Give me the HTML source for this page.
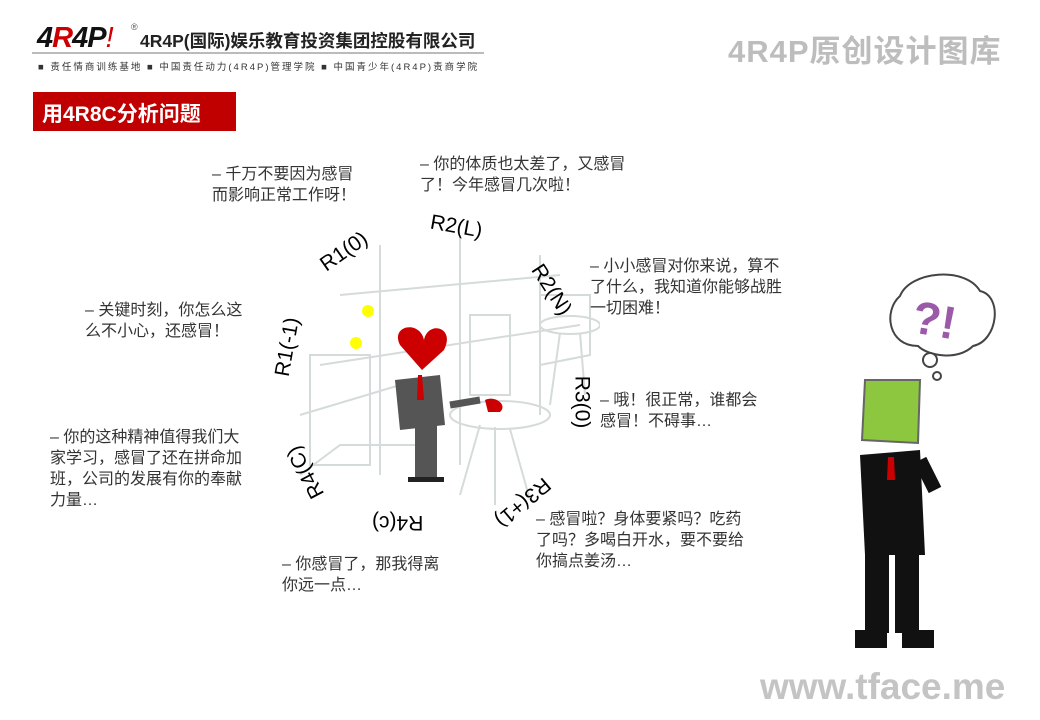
<!DOCTYPE html>
<html><head><meta charset="utf-8"><style>
body{margin:0;width:1040px;height:720px;background:#fff;position:relative;overflow:hidden;font-family:"Liberation Sans","Noto Sans CJK SC",sans-serif}
.a{position:absolute;white-space:nowrap}
.t{position:absolute;font-size:16px;line-height:21px;color:#333;white-space:nowrap}
.r{position:absolute;font-size:21px;color:#000;white-space:nowrap;transform-origin:center center}
</style></head><body>
<div class="a" style="left:37px;top:22px;font:italic 900 29px 'Liberation Sans',sans-serif;color:#111;letter-spacing:-1px">4<span style="color:#c00">R</span>4P<span style="color:#c00;font-weight:400">!</span></div>
<div class="a" style="left:131px;top:22px;font-size:9px;color:#555">®</div>
<div class="a" style="left:140px;top:28px;font-size:17.5px;font-weight:bold;color:#222">4R4P(国际)娱乐教育投资集团控股有限公司</div>
<div class="a" style="left:32px;top:52px;width:452px;height:2px;background:#bbb"></div>
<div class="a" style="left:38px;top:59px;font-size:9.5px;color:#333;letter-spacing:2px">■ 责任情商训练基地 ■ 中国责任动力(4R4P)管理学院 ■ 中国青少年(4R4P)责商学院</div>
<div class="a" style="left:728px;top:26px;font-size:31px;font-weight:bold;color:#bdbdbd;letter-spacing:1px">4R4P原创设计图库</div>
<div class="a" style="left:33px;top:92px;width:203px;height:39px;background:#c00000"></div>
<div class="a" style="left:42px;top:98px;font-size:21px;font-weight:bold;color:#fff">用4R8C分析问题</div>

<svg class="a" style="left:280px;top:215px" width="320" height="300">
<g stroke="#d5dada" stroke-width="2" fill="none">
<path d="M100 30 L100 260 M180 20 L180 250 M260 40 L260 200 M60 80 L280 60 M40 150 L300 110 M20 200 L120 170 M260 80 L310 80 L310 140 L260 150"/>
<rect x="30" y="140" width="60" height="110"/><rect x="190" y="100" width="40" height="80"/>
<ellipse cx="220" cy="200" rx="50" ry="14"/><ellipse cx="290" cy="110" rx="30" ry="9"/>
<path d="M200 210 L180 280 M230 214 L250 285 M215 212 L215 290 M280 118 L270 190 M300 118 L305 180"/>
<path d="M20 260 L60 230 L140 230"/>
</g>
<path d="M120 130 C110 110 140 105 144 125 C148 105 176 112 164 135 L142 155 Z" fill="#c00"/>
<path d="M115 165 L160 160 L165 210 L120 215 Z" fill="#555"/>
<path d="M138 160 L142 160 L144 185 L137 185 Z" fill="#c00"/>
<rect x="135" y="205" width="22" height="60" fill="#555"/><rect x="128" y="262" width="36" height="5" fill="#222"/>
<path d="M170 190 L200 185" stroke="#555" stroke-width="7"/>
<path d="M205 185 C215 180 228 190 220 197 L208 197 Z" fill="#c00"/>
<circle cx="88" cy="96" r="6" fill="#ff0"/><circle cx="76" cy="128" r="6" fill="#ff0"/>
</svg>

<div class="r" style="left:318px;top:240px;transform:rotate(-35deg)">R1(0)</div>
<div class="r" style="left:430px;top:215px;transform:rotate(10deg)">R2(L)</div>
<div class="r" style="left:523px;top:278px;transform:rotate(57deg)">R2(N)</div>
<div class="r" style="left:555px;top:390px;transform:rotate(90deg)">R3(0)</div>
<div class="r" style="left:490px;top:490px;transform:rotate(140deg)">R3(+1)</div>
<div class="r" style="left:372px;top:510px;transform:rotate(180deg)">R4(c)</div>
<div class="r" style="left:278px;top:460px;transform:rotate(-118deg)">R4(C)</div>
<div class="r" style="left:258px;top:335px;transform:rotate(-80deg)">R1(-1)</div>

<div class="t" style="left:212px;top:164px">– 千万不要因为感冒<br>而影响正常工作呀！</div>
<div class="t" style="left:420px;top:154px">– 你的体质也太差了，又感冒<br>了！今年感冒几次啦！</div>
<div class="t" style="left:590px;top:256px">– 小小感冒对你来说，算不<br>了什么，我知道你能够战胜<br>一切困难！</div>
<div class="t" style="left:85px;top:300px">– 关键时刻，你怎么这<br>么不小心，还感冒！</div>
<div class="t" style="left:600px;top:390px">– 哦！很正常，谁都会<br>感冒！不碍事…</div>
<div class="t" style="left:50px;top:427px">– 你的这种精神值得我们大<br>家学习，感冒了还在拼命加<br>班，公司的发展有你的奉献<br>力量…</div>
<div class="t" style="left:536px;top:509px">– 感冒啦？身体要紧吗？吃药<br>了吗？多喝白开水，要不要给<br>你搞点姜汤…</div>
<div class="t" style="left:282px;top:554px">– 你感冒了，那我得离<br>你远一点…</div>

<svg class="a" style="left:875px;top:268px" width="140" height="100">
<path d="M25 28 C35 3 90 -2 105 23 C128 28 123 73 98 78 C83 93 53 88 43 78 C13 78 8 43 25 28Z" fill="#fff" stroke="#444" stroke-width="2"/>
<text x="38" y="68" font-size="46" font-weight="bold" fill="#9a5aa8" font-family="Liberation Sans" transform="rotate(10 60 50)">?!</text>
</svg>
<svg class="a" style="left:840px;top:265px" width="130" height="390">
<circle cx="90" cy="95" r="7" fill="#fff" stroke="#444" stroke-width="2"/><circle cx="97" cy="111" r="4" fill="#fff" stroke="#444" stroke-width="2"/>
<path d="M25 115 L80 115 L78 178 L22 175 Z" fill="#8dc63f" stroke="#666" stroke-width="2"/>
<path d="M20 190 L80 185 L85 290 L25 290 Z" fill="#111"/>
<path d="M48 192 L54 192 L55 215 L47 215 Z" fill="#c00"/>
<path d="M80 195 L95 225" stroke="#111" stroke-width="14"/>
<rect x="25" y="288" width="24" height="80" fill="#111"/><rect x="55" y="288" width="24" height="80" fill="#111"/>
<rect x="15" y="365" width="32" height="18" fill="#111"/><rect x="62" y="365" width="32" height="18" fill="#111"/>
</svg>

<div class="a" style="left:760px;top:666px;font-size:37px;font-weight:bold;color:#c4c4c4">www.tface.me</div>
</body></html>
